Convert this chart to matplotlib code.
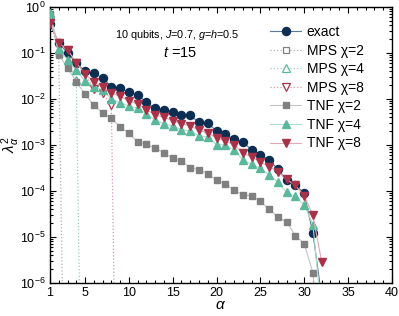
import numpy as np
import matplotlib
matplotlib.use('Agg')
import matplotlib.pyplot as plt
from matplotlib.ticker import MultipleLocator, FixedLocator, LogLocator, NullFormatter

plt.rcParams['font.family'] = ['Liberation Sans', 'DejaVu Sans']
plt.rcParams['mathtext.fontset'] = 'custom'
plt.rcParams['mathtext.rm'] = 'Liberation Sans'
plt.rcParams['mathtext.it'] = 'Liberation Sans:italic'
plt.rcParams['mathtext.cal'] = 'Liberation Sans'

# singular values squared (alpha = 1 .. n)
exact = [0.42, 0.166, 0.10, 0.060, 0.040, 0.036, 0.029, 0.0186, 0.0174, 0.0141,
         0.0123, 0.0085, 0.0063, 0.0058, 0.0052, 0.0046, 0.0044, 0.0031, 0.0030, 0.0020,
         0.0017, 0.00135, 0.00115, 0.00079, 0.00062, 0.00047, 0.00030, 0.00017, 0.000135, 8.9e-5,
         1.2e-5, 5e-7]
mps2 = [0.63, 0.09, 4e-14]
mps4 = [0.72, 0.12, 0.072, 0.026, 6e-15]
mps8 = [0.46, 0.166, 0.117, 0.062, 0.035, 0.0166, 0.0132, 0.0074, 1e-15]
tnf2 = [0.70, 0.093, 0.047, 0.024, 0.0126, 0.0074, 0.0050, 0.0038, 0.0025, 0.00178,
        0.00117, 0.00105, 0.00085, 0.00068, 0.00051, 0.00045, 0.00032, 0.00029, 0.00024, 0.00017,
        0.000145, 0.000105, 8.3e-5, 7.8e-5, 6.0e-5, 4.0e-5, 2.75e-5, 2.1e-5, 1.07e-5, 7.2e-6,
        1.66e-6, 1e-8]
tnf4 = [0.74, 0.12, 0.072, 0.042, 0.0245, 0.0186, 0.0158, 0.0102, 0.0081, 0.0071,
        0.0063, 0.0048, 0.0035, 0.0029, 0.0026, 0.00214, 0.00204, 0.00158, 0.00148, 0.00102,
        0.00100, 0.00078, 0.00048, 0.00038, 0.00031, 0.00022, 0.000158, 9.3e-5, 7.6e-5, 5.0e-5,
        1.86e-5, 2e-7]
tnf8 = [0.46, 0.166, 0.117, 0.062, 0.035, 0.023, 0.0186, 0.0135, 0.0115, 0.0091,
        0.0078, 0.0059, 0.0045, 0.0040, 0.0034, 0.0029, 0.0026, 0.0021, 0.0018, 0.00145,
        0.0012, 0.00102, 0.00068, 0.00055, 0.00043, 0.00034, 0.00026, 0.000178, 0.000132, 7.9e-5,
        2.95e-5, 2.9e-6]

navy = '#0c2e52'
gray = '#808080'
teal = '#5cb89c'
red = '#a83248'


def idx(v):
    return np.arange(1, len(v) + 1)


fig = plt.figure(figsize=(3.99, 3.16), dpi=100)
ax = fig.add_axes([0.1253, 0.1044, 0.8567, 0.8734])

ax.plot(idx(exact), exact, '-', color='#5d7893', lw=0.8, marker='o', ms=5.8,
        mfc=navy, mec=navy, label='exact', zorder=3)
ax.plot(idx(mps2), mps2, ':', color='#b0b0b0', lw=0.9, marker='s', ms=4.5,
        mfc='white', mec=gray, mew=0.9, label='MPS χ=2', zorder=2)
ax.plot(idx(mps4), mps4, ':', color='#92d2bf', lw=0.9, marker='^', ms=5.8,
        mfc='white', mec=teal, mew=0.9, label='MPS χ=4', zorder=2)
ax.plot(idx(mps8), mps8, ':', color='#d99aa6', lw=0.9, marker='v', ms=5.8,
        mfc='white', mec=red, mew=0.9, label='MPS χ=8', zorder=2)
ax.plot(idx(tnf2), tnf2, '-', color='#c4c4c4', lw=0.8, marker='s', ms=4.5,
        mfc=gray, mec=gray, label='TNF χ=2', zorder=4)
ax.plot(idx(tnf4), tnf4, '-', color='#acdccd', lw=0.8, marker='^', ms=6.0,
        mfc=teal, mec=teal, label='TNF χ=4', zorder=5)
ax.plot(idx(tnf8), tnf8, '-', color='#e0aab4', lw=0.8, marker='v', ms=6.0,
        mfc=red, mec=red, label='TNF χ=8', zorder=6)

ax.set_yscale('log')
ax.set_xlim(1, 40)
ax.set_ylim(1e-6, 1)
ax.xaxis.set_major_locator(FixedLocator([1, 5, 10, 15, 20, 25, 30, 35, 40]))
ax.xaxis.set_minor_locator(MultipleLocator(1))
ax.yaxis.set_major_locator(LogLocator(base=10, numticks=10))
ax.yaxis.set_minor_locator(LogLocator(base=10, subs=np.arange(2, 10), numticks=20))
ax.yaxis.set_minor_formatter(NullFormatter())
ax.tick_params(which='both', direction='in', top=True, right=True, labelsize=9, width=0.8)
ax.tick_params(which='major', length=4, pad=3)
ax.tick_params(which='minor', length=2)
for s in ax.spines.values():
    s.set_linewidth(1.0)

ax.set_xlabel(r'$\alpha$', fontsize=11)
ax.xaxis.set_label_coords(0.5, -0.055)
ax.set_ylabel(r'$\lambda_\alpha^2$', fontsize=11)
ax.yaxis.set_label_coords(-0.083, 0.5)

ax.text(0.372, 0.9, r'10 qubits, $J$=0.7, $g$=$h$=0.5', transform=ax.transAxes,
        fontsize=7.8, ha='center', va='center')
ax.text(0.38, 0.833, r'$t$ =15', transform=ax.transAxes, fontsize=10.5,
        ha='center', va='center')

ax.legend(loc='upper left', bbox_to_anchor=(0.645, 0.935), frameon=False, fontsize=10,
          handlelength=2.2, handletextpad=0.4, labelspacing=0.33, borderaxespad=0,
          borderpad=0)

fig.savefig('out.png', dpi=100)
